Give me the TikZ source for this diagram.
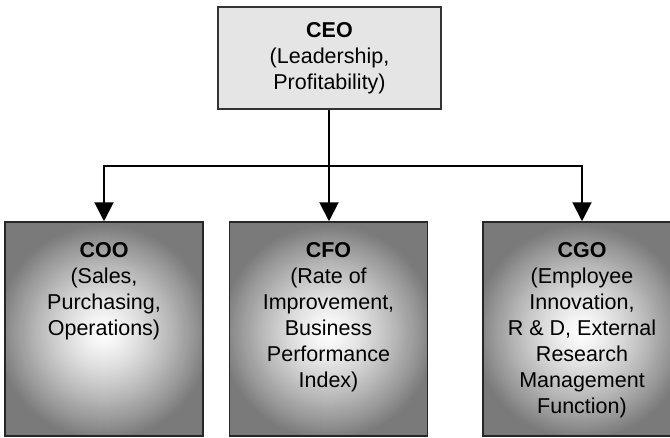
\documentclass[tikz,border=0pt]{standalone}
\usepackage{fontspec}
\setmainfont{Liberation Sans}
\usetikzlibrary{arrows.meta}
\definecolor{ceofill}{HTML}{E5E5E5}
\tikzset{
  glow/.style={path picture={%
    \foreach \r in {150,148,...,2}{%
      \pgfmathsetmacro\shadepct{min(52,50*(\r/105)^1.3)}%
      \fill[black!\shadepct!white] ([yshift=-3pt]path picture bounding box.center) circle (\r pt);
    }}},
  topbox/.style={draw=black!80, line width=1.2pt, fill=ceofill,
    minimum width=223pt, minimum height=102pt, inner sep=0pt,
    align=center, font=\fontsize{21.5}{26}\selectfont},
  subbox/.style={draw=black!85, line width=1.5pt, glow,
    minimum width=198pt, minimum height=214pt, inner sep=0pt},
  boxtext/.style={anchor=base, inner sep=0pt},
  conn/.style={line width=2pt, draw=black},
  arr/.style={conn, -{Triangle[width=19pt,length=19pt]}}
}
\newcommand{\boxlines}[1]{\parbox[t]{196pt}{\fontsize{21.5}{26}\selectfont\centering #1}}
\begin{document}
\begin{tikzpicture}[x=1pt,y=1pt]
\useasboundingbox (0,0) rectangle (670,-437);
\node[topbox] (ceo) at (329.5,-58) {\textbf{CEO}\\(Leadership,\\Profitability)};
\node[subbox] (coo) at (104,-329) {};
\node[subbox] (cfo) at (328.5,-329) {};
\node[subbox] (cgo) at (582,-329) {};
\node[boxtext] (cootext) at ([yshift=-36pt]coo.north) {\boxlines{\textbf{COO}\\(Sales,\\Purchasing,\\Operations)}};
\node[boxtext] (cfotext) at ([yshift=-36pt]cfo.north) {\boxlines{\textbf{CFO}\\(Rate of\\Improvement,\\Business\\Performance\\Index)}};
\node[boxtext] (cgotext) at ([yshift=-36pt]cgo.north) {\boxlines{\textbf{CGO}\\(Employee\\Innovation,\\R \& D, External\\Research\\Management\\Function)}};
\coordinate (bus) at (329,-166);
\draw[conn] (ceo.south -| bus) -- (bus);
\draw[arr] (bus) -| (coo.north);
\draw[arr] (bus) -- (bus |- cfo.north);
\draw[arr] (bus) -| (cgo.north);
\end{tikzpicture}
\end{document}
